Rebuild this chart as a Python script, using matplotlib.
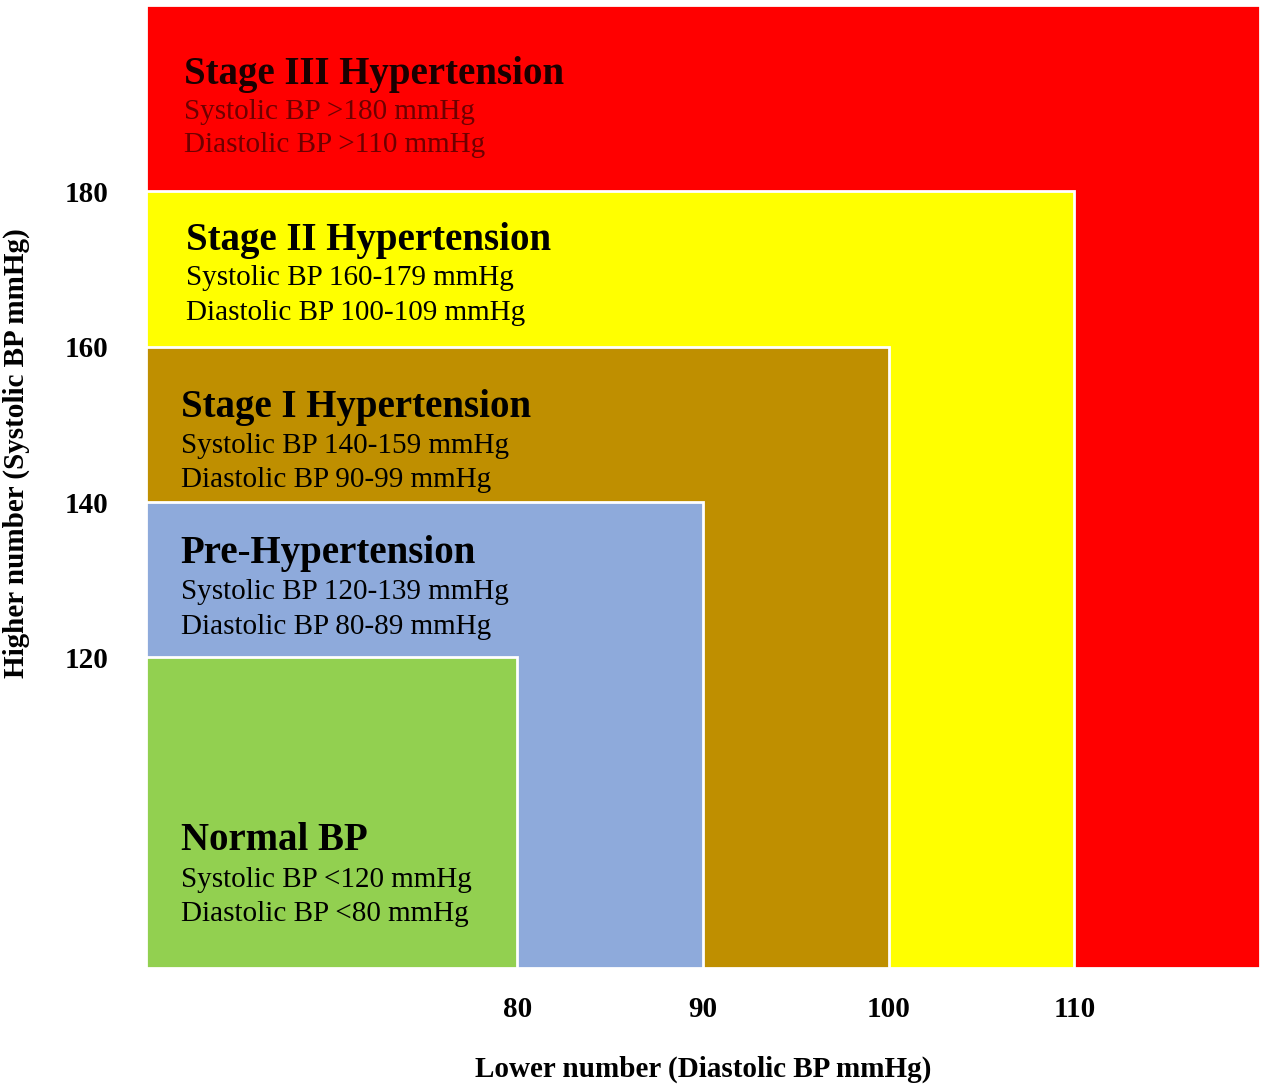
import matplotlib
matplotlib.use("Agg")
import matplotlib.pyplot as plt
from matplotlib.patches import Rectangle

# ---- data ----
stages = ["Stage III Hypertension", "Stage II Hypertension", "Stage I Hypertension",
          "Pre-Hypertension", "Normal BP"]
systolic_text = ["Systolic BP >180 mmHg", "Systolic BP 160-179 mmHg", "Systolic BP 140-159 mmHg",
                 "Systolic BP 120-139 mmHg", "Systolic BP <120 mmHg"]
diastolic_text = ["Diastolic BP >110 mmHg", "Diastolic BP 100-109 mmHg", "Diastolic BP 90-99 mmHg",
                  "Diastolic BP 80-89 mmHg", "Diastolic BP <80 mmHg"]
diastolic_upper = [120, 110, 100, 90, 80]   # right edge of each zone
systolic_upper = [204, 180, 160, 140, 120]  # top edge of each zone
x_min, y_min = 60, 80
x_ticks = [80, 90, 100, 110]
y_ticks = [120, 140, 160, 180]

# ---- style ----
colors = ["#FF0000", "#FFFF00", "#BF8F00", "#8EAADB", "#92D050"]
sub_colors = ["#6e0000", "black", "black", "black", "black"]
title_colors = ["#1a0000", "black", "black", "black", "black"]
label_x = [0.034, 0.036, 0.031, 0.031, 0.031]
label_y = [(0.928, 0.889, 0.855), (0.755, 0.7166, 0.680), (0.5816, 0.542, 0.507),
           (0.430, 0.3906, 0.354), (0.132, 0.0915, 0.0562)]

serif = ["Liberation Serif", "DejaVu Serif"]

fig = plt.figure(figsize=(12.68, 10.89), dpi=100)
ax = fig.add_axes([146 / 1268, 1 - 968 / 1089, 1114 / 1268, 963 / 1089])

for i in range(len(stages)):
    ax.add_patch(Rectangle((x_min, y_min), diastolic_upper[i] - x_min, systolic_upper[i] - y_min,
                           facecolor=colors[i], edgecolor="white", linewidth=2))
    tx = label_x[i]
    ty = label_y[i]
    ax.text(tx, ty[0], stages[i], transform=ax.transAxes, fontfamily=serif, fontweight="bold",
            fontsize=28, color=title_colors[i], va="center", ha="left")
    ax.text(tx, ty[1], systolic_text[i], transform=ax.transAxes, fontfamily=serif,
            fontsize=21, color=sub_colors[i], va="center", ha="left")
    ax.text(tx, ty[2], diastolic_text[i], transform=ax.transAxes, fontfamily=serif,
            fontsize=21, color=sub_colors[i], va="center", ha="left")

ax.set_xlim(x_min, diastolic_upper[0])
ax.set_ylim(y_min, systolic_upper[0])
ax.set_xticks(x_ticks)
ax.set_yticks(y_ticks)
ax.set_xticklabels([str(v) for v in x_ticks], fontfamily=serif, fontweight="bold", fontsize=21)
ax.set_yticklabels([str(v) for v in y_ticks], fontfamily=serif, fontweight="bold", fontsize=21)
ax.tick_params(axis="x", length=0, pad=20)
ax.tick_params(axis="y", length=0, pad=27)
for s in ax.spines.values():
    s.set_visible(False)

ax.set_xlabel("Lower number (Diastolic BP mmHg)", fontfamily=serif, fontweight="bold",
              fontsize=21)
ax.set_ylabel("Higher number (Systolic BP mmHg)", fontfamily=serif, fontweight="bold",
              fontsize=21)
ax.xaxis.set_label_coords(0.5, -0.0915)
ax.yaxis.set_label_coords(-0.104, 0.535)

fig.savefig("out.png", dpi=100, facecolor="white")
